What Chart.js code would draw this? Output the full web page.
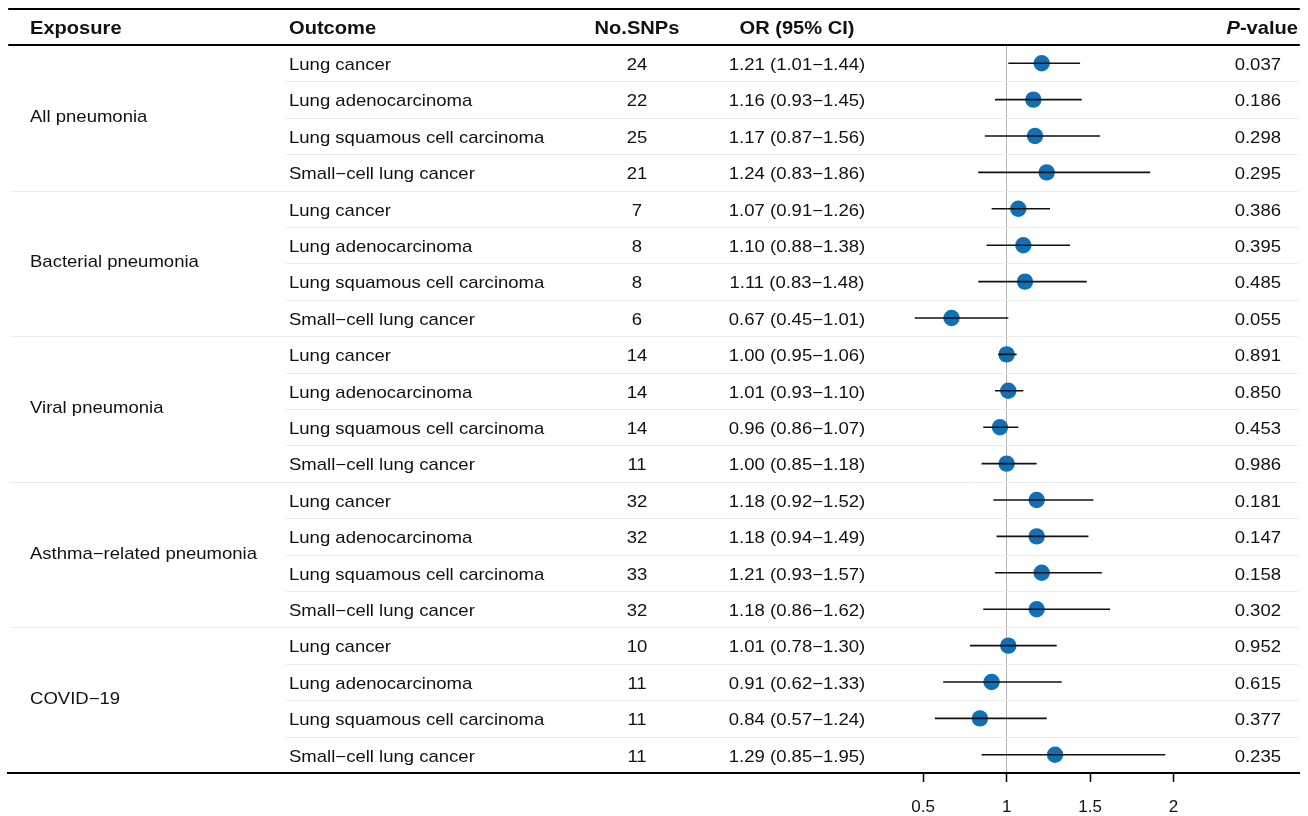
<!DOCTYPE html>
<html>
<head>
<meta charset="utf-8">
<script src="https://cdn.jsdelivr.net/npm/chart.js@4"></script>
<style>
  html, body { margin: 0; padding: 0; background: #fff; }
  #wrap { width: 1308px; height: 816px; }
</style>
</head>
<body>
<div id="wrap"><canvas id="c" width="1308" height="816"></canvas></div>
<script>
// ---------- data ----------
const exposures = ["All pneumonia", "Bacterial pneumonia", "Viral pneumonia", "Asthma\u2212related pneumonia", "COVID\u221219"];
const outcomes = ["Lung cancer", "Lung adenocarcinoma", "Lung squamous cell carcinoma", "Small\u2212cell lung cancer"];
const nSNPs = [24, 22, 25, 21, 7, 8, 8, 6, 14, 14, 14, 11, 32, 32, 33, 32, 10, 11, 11, 11];
const orValues = [1.21, 1.16, 1.17, 1.24, 1.07, 1.10, 1.11, 0.67, 1.00, 1.01, 0.96, 1.00, 1.18, 1.18, 1.21, 1.18, 1.01, 0.91, 0.84, 1.29];
const ciLow = [1.01, 0.93, 0.87, 0.83, 0.91, 0.88, 0.83, 0.45, 0.95, 0.93, 0.86, 0.85, 0.92, 0.94, 0.93, 0.86, 0.78, 0.62, 0.57, 0.85];
const ciHigh = [1.44, 1.45, 1.56, 1.86, 1.26, 1.38, 1.48, 1.01, 1.06, 1.10, 1.07, 1.18, 1.52, 1.49, 1.57, 1.62, 1.30, 1.33, 1.24, 1.95];
const pValues = ["0.037", "0.186", "0.298", "0.295", "0.386", "0.395", "0.485", "0.055", "0.891", "0.850", "0.453", "0.986", "0.181", "0.147", "0.158", "0.302", "0.952", "0.615", "0.377", "0.235"];
const xTicks = [0.5, 1, 1.5, 2];
const headers = ["Exposure", "Outcome", "No.SNPs", "OR (95% CI)", "P-value"];

// ---------- derived ----------
const nRows = orValues.length;
const rowIdx = orValues.map((_, i) => i + 1);
const pointData = rowIdx.map((r, i) => ({ x: orValues[i], y: r }));
const ciData = [];
rowIdx.forEach((r, i) => {
  ciData.push({ x: ciLow[i], y: r });
  ciData.push({ x: ciHigh[i], y: r });
  ciData.push({ x: ciHigh[i], y: null });
});
const fmt = v => v.toFixed(2);
const orText = orValues.map((v, i) => `${fmt(v)} (${fmt(ciLow[i])}\u2212${fmt(ciHigh[i])})`);

const FONT = '"Liberation Sans", Arial, Helvetica, sans-serif';
const TXT = '#111';
const SX = 1.13; // horizontal stretch of the table text

function txt(ctx, s, x, y, align, font, sx) {
  ctx.save();
  ctx.font = font;
  ctx.textAlign = align;
  ctx.textBaseline = 'alphabetic';
  ctx.translate(x, y);
  ctx.scale(sx, 1);
  ctx.fillText(s, 0, 0);
  const w = ctx.measureText(s).width * sx;
  ctx.restore();
  return w;
}

const tablePlugin = {
  id: 'table',
  beforeDatasetsDraw(chart) {
    const { ctx, chartArea, scales: { y } } = chart;
    ctx.save();
    ctx.strokeStyle = '#ececec';
    ctx.lineWidth = 1;
    for (let b = 1; b < nRows; b++) {
      const py = Math.round(y.getPixelForValue(b + 0.5)) + 0.5;
      const startX = (b % 4 === 0) ? 10 : 286;
      ctx.beginPath();
      ctx.moveTo(startX, py);
      ctx.lineTo(chartArea.right - 2, py);
      ctx.stroke();
    }
    ctx.restore();
  },
  afterDraw(chart) {
    const { ctx, chartArea, scales: { y } } = chart;
    ctx.save();
    ctx.strokeStyle = '#000';
    ctx.lineWidth = 2;
    ctx.beginPath();
    ctx.moveTo(chartArea.left, 9); ctx.lineTo(chartArea.right, 9);
    ctx.moveTo(chartArea.left, chartArea.top); ctx.lineTo(chartArea.right, chartArea.top);
    ctx.stroke();
    ctx.fillStyle = TXT;

    // headers
    const hb = 34.3;
    const hf = `bold 17.8px ${FONT}`;
    txt(ctx, headers[0], 30, hb, 'left', hf, SX);
    txt(ctx, headers[1], 289, hb, 'left', hf, SX);
    txt(ctx, headers[2], 637, hb, 'center', hf, SX);
    txt(ctx, headers[3], 797, hb, 'center', hf, SX);
    const rest = headers[4].slice(1);
    const w = txt(ctx, rest, 1298, hb, 'right', hf, SX);
    txt(ctx, headers[4][0], 1298 - w, hb, 'right', `italic bold 17.8px ${FONT}`, SX);

    // body
    const bf = `16.4px ${FONT}`;
    for (let i = 0; i < nRows; i++) {
      const py = y.getPixelForValue(i + 1) + 6.7;
      txt(ctx, outcomes[i % 4], 289, py, 'left', bf, SX);
      txt(ctx, String(nSNPs[i]), 637, py, 'center', bf, SX);
      txt(ctx, orText[i], 797, py, 'center', bf, SX);
      txt(ctx, pValues[i], 1281, py, 'right', bf, SX);
    }
    exposures.forEach((e, g) => {
      const py = y.getPixelForValue(g * 4 + 2.5) + 4;
      txt(ctx, e, 30, py, 'left', bf, SX);
    });
    ctx.restore();
  }
};

new Chart(document.getElementById('c'), {
  type: 'scatter',
  data: {
    datasets: [
      {
        label: 'CI',
        data: ciData,
        showLine: true,
        spanGaps: false,
        borderColor: '#111',
        borderWidth: 1.6,
        pointRadius: 0,
        pointHoverRadius: 0
      },
      {
        label: 'OR',
        data: pointData,
        pointRadius: 8.2,
        pointHoverRadius: 8.2,
        backgroundColor: '#1170b5',
        borderWidth: 0
      }
    ]
  },
  options: {
    responsive: false,
    animation: false,
    events: [],
    layout: { padding: { left: 8, right: 8, top: 45, bottom: 0 } },
    plugins: { legend: { display: false }, tooltip: { enabled: false } },
    scales: {
      x: {
        type: 'linear',
        min: -4.98,
        max: 2.756,
        afterBuildTicks: s => { s.ticks = xTicks.map(v => ({ value: v })); },
        afterFit: s => { s.height = 43; },
        border: { display: true, color: '#000', width: 2 },
        grid: {
          drawOnChartArea: true,
          color: c => (c.tick && c.tick.value === 1) ? '#b5b5b5' : 'rgba(0,0,0,0)',
          lineWidth: 1,
          tickColor: '#000',
          tickLength: 9,
          tickWidth: 1.5
        },
        ticks: {
          color: '#111',
          font: { family: FONT, size: 17 },
          padding: 15,
          maxRotation: 0,
          callback: v => String(v)
        }
      },
      y: {
        type: 'linear',
        display: false,
        min: 0.5,
        max: nRows + 0.5,
        reverse: true
      }
    }
  },
  plugins: [tablePlugin]
});
</script>
</body>
</html>
